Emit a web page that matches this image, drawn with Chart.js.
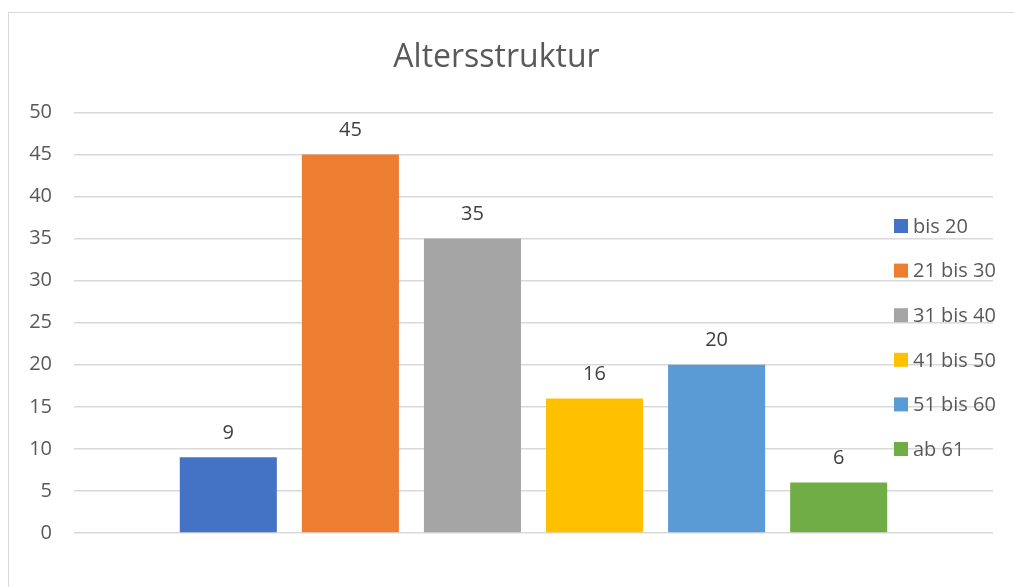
<!DOCTYPE html>
<html lang="de">
  <head>
    <meta charset="UTF-8" />
    <title>Altersstruktur</title>
    <script src="https://cdn.jsdelivr.net/npm/chart.js"></script>
    <style>
      body {
        margin: 0;
        background: #fff;
      }
      .wrap {
        position: relative;
        width: 1014px;
        height: 587px;
        overflow: hidden;
      }
      .frame {
        position: absolute;
        left: 8px;
        top: 12px;
        width: 1100px;
        height: 700px;
        border: 1.5px solid #d9d9d9;
      }
      canvas {
        position: absolute;
        left: 0;
        top: 0;
      }
    </style>
  </head>
  <body>
    <div class="wrap">
      <div class="frame"></div>
      <canvas id="ageChart" width="1014" height="587"></canvas>
    </div>

    <script>
      // Chart data
      const groups = ['bis 20', '21 bis 30', '31 bis 40', '41 bis 50', '51 bis 60', 'ab 61'];
      const counts = [9, 45, 35, 16, 20, 6];
      const colors = ['#4472C4', '#ED7D31', '#A5A5A5', '#FFC000', '#5B9BD5', '#70AD47'];
      const yTicks = [0, 5, 10, 15, 20, 25, 30, 35, 40, 45, 50];

      const FONT = '"Open Sans", "Noto Sans", sans-serif';

      // value labels above each bar
      const valueLabels = {
        id: 'valueLabels',
        afterDatasetsDraw(chart) {
          const ctx = chart.ctx;
          ctx.save();
          ctx.font = '20px ' + FONT;
          ctx.fillStyle = '#404040';
          ctx.textAlign = 'center';
          ctx.textBaseline = 'middle';
          chart.data.datasets.forEach((ds, i) => {
            chart.getDatasetMeta(i).data.forEach((bar, j) => {
              ctx.fillText(ds.data[j], bar.x, bar.y - 24);
            });
          });
          ctx.restore();
        },
      };

      // Excel-style legend sitting over the right part of the plot
      const sideLegend = {
        id: 'sideLegend',
        afterDraw(chart) {
          const ctx = chart.ctx;
          ctx.save();
          ctx.font = '20px ' + FONT;
          ctx.textBaseline = 'middle';
          chart.data.datasets.forEach((ds, i) => {
            const y = 226 + i * 44.6;
            ctx.fillStyle = ds.backgroundColor;
            ctx.fillRect(894, y - 7, 14, 14);
            ctx.fillStyle = '#595959';
            ctx.fillText(ds.label, 913, y + 1);
          });
          ctx.restore();
        },
      };

      const ctx = document.getElementById('ageChart').getContext('2d');
      new Chart(ctx, {
        type: 'bar',
        data: {
          labels: [''],
          datasets: groups.map((g, i) => ({
            label: g,
            data: [counts[i]],
            backgroundColor: colors[i],
            barPercentage: 0.795,
            categoryPercentage: 0.797,
          })),
        },
        options: {
          responsive: false,
          animation: false,
          layout: { padding: { left: 0, right: 21, bottom: 54, top: 0 } },
          plugins: {
            legend: { display: false },
            tooltip: { enabled: false },
            title: {
              display: true,
              text: 'Altersstruktur',
              color: '#595959',
              font: { family: FONT, size: 32, weight: 'normal' },
              padding: { top: 39, bottom: 35 },
            },
          },
          scales: {
            x: { display: false },
            y: {
              min: 0,
              max: 50,
              afterBuildTicks: (scale) => {
                scale.ticks = yTicks.map((v) => ({ value: v }));
              },
              afterFit: (scale) => {
                scale.width = 74;
              },
              border: { display: false },
              grid: { color: '#d9d9d9', lineWidth: 1.5, drawTicks: false },
              ticks: {
                color: '#595959',
                padding: 22,
                font: { family: FONT, size: 20 },
              },
            },
          },
        },
        plugins: [valueLabels, sideLegend],
      });
    </script>
  </body>
</html>
